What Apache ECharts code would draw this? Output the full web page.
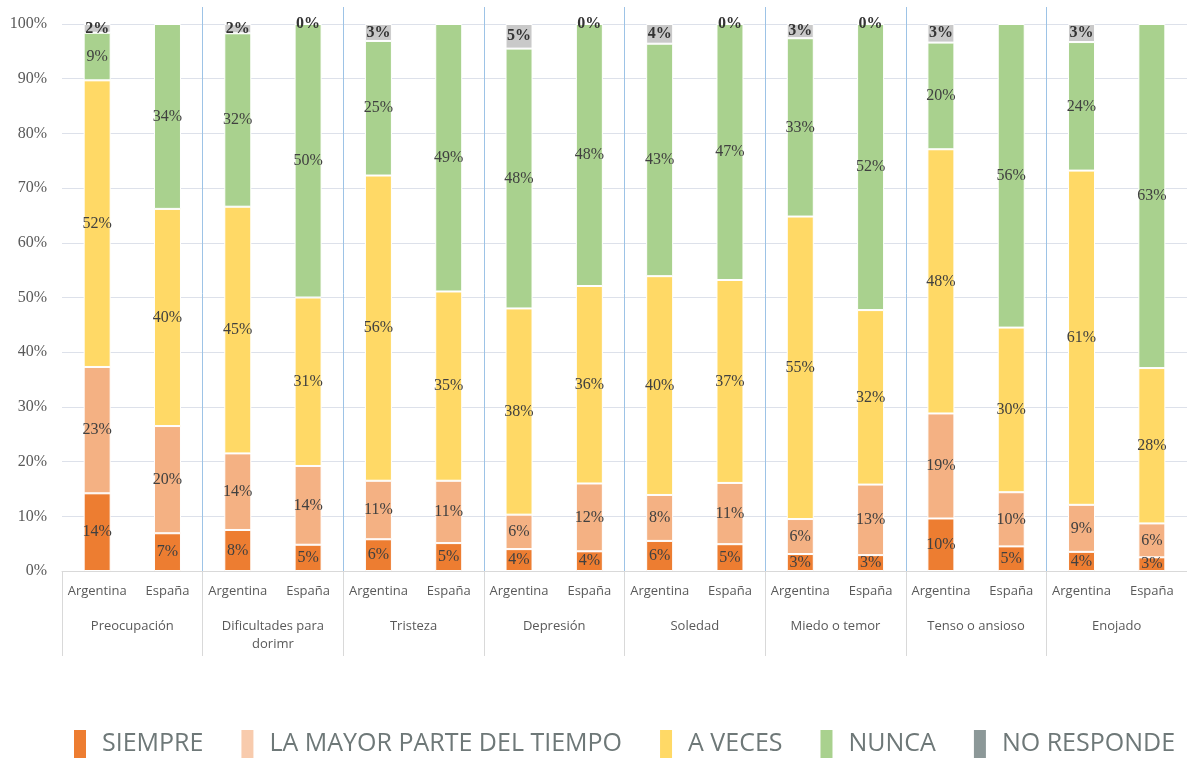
<!DOCTYPE html>
<html>
<head>
<meta charset="utf-8">
<title>Emociones Argentina / España</title>
<script src="https://cdn.jsdelivr.net/npm/echarts@6/dist/echarts.min.js"></script>
<style>
  html, body { margin: 0; padding: 0; background: #fff; }
  #main { width: 1187px; height: 758px; }
</style>
</head>
<body>
<div id="main"></div>
<script>
// categorias
var paises = ['Argentina', 'España', 'Argentina', 'España', 'Argentina', 'España', 'Argentina', 'España',
              'Argentina', 'España', 'Argentina', 'España', 'Argentina', 'España', 'Argentina', 'España'];
var grupos = ['Preocupación', 'Dificultades para\ndorimr', 'Tristeza', 'Depresión',
              'Soledad', 'Miedo o temor', 'Tenso o ansioso', 'Enojado'];
var yTicks = [0, 10, 20, 30, 40, 50, 60, 70, 80, 90, 100];

// valores (%)
var siempre    = [14.2, 6.9, 7.5, 4.8, 5.8, 5.1, 4.0, 3.6, 5.5, 4.9, 3.1, 2.9, 9.6, 4.5, 3.5, 2.5];
var mayorParte = [23.1, 19.6, 14.0, 14.4, 10.7, 11.4, 6.3, 12.4, 8.4, 11.2, 6.4, 12.9, 19.2, 9.9, 8.6, 6.2];
var aVeces     = [52.4, 39.7, 45.1, 30.8, 55.8, 34.6, 37.7, 36.1, 40.0, 37.1, 55.3, 31.9, 48.3, 30.1, 61.1, 28.4];
var nunca      = [8.7, 33.8, 31.7, 50.0, 24.6, 48.9, 47.5, 47.9, 42.5, 46.8, 32.6, 52.3, 19.5, 55.5, 23.5, 62.9];
var noResponde = [1.6, null, 1.7, 0, 3.1, null, 4.5, 0, 3.6, 0, 2.6, 0, 3.4, null, 3.3, null];

var nombres = ['SIEMPRE', 'LA MAYOR PARTE DEL TIEMPO', 'A VECES', 'NUNCA', 'NO RESPONDE'];
var coloresBarra = ['#ed7d31', '#f4b183', '#ffd966', '#a9d18e', '#c9c9c9'];
var coloresLeyenda = ['#ed7d31', '#f8cbad', '#ffd966', '#a9d18e', '#8c9898'];
var valores = [siempre, mayorParte, aVeces, nunca, noResponde];

var myChart = echarts.init(document.getElementById('main'));

var series = [];
valores.forEach(function (vals, i) {
    series.push({
        name: nombres[i],
        type: 'bar',
        stack: 'total',
        xAxisIndex: 0,
        yAxisIndex: 0,
        barWidth: 27,
        data: vals,
        itemStyle: { color: coloresBarra[i], borderColor: '#ffffff', borderWidth: 1 },
        label: {
            show: true,
            position: 'inside',
            fontFamily: 'Liberation Serif',
            fontSize: 16,
            color: i === 4 ? '#333333' : '#404040',
            fontWeight: i === 4 ? 'bold' : 'normal',
            formatter: function (p) {
                return p.value == null ? '' : Math.round(p.value) + '%';
            }
        }
    });
});

var option = {
    animation: false,
    grid: [
        { left: 62, right: 0, top: 24, bottom: 187 },
        { left: 62, right: 0, top: 7, bottom: 178 }
    ],
    legend: {
        left: 72,
        top: 728,
        padding: 0,
        itemWidth: 14,
        itemHeight: 30,
        itemGap: 36,
        icon: 'rect',
        textStyle: {
            fontFamily: 'Open Sans',
            fontSize: 25,
            color: '#6e7878',
            padding: [0, 0, 0, 10]
        },
        data: nombres.map(function (n, i) {
            return { name: n, itemStyle: { color: coloresLeyenda[i] } };
        })
    },
    xAxis: [
        {
            type: 'category',
            gridIndex: 0,
            position: 'bottom',
            data: paises,
            axisLine: { lineStyle: { color: '#d9d9d9' } },
            axisTick: { show: false },
            axisLabel: { fontFamily: 'Open Sans', fontSize: 13, color: '#595959', margin: 14, interval: 0 }
        },
        {
            type: 'category',
            gridIndex: 0,
            position: 'bottom',
            data: grupos,
            axisLine: { show: false },
            axisTick: { show: true, length: 85, interval: 0, lineStyle: { color: '#d9d9d9' } },
            axisLabel: { fontFamily: 'Open Sans', fontSize: 13, color: '#595959', margin: 46, lineHeight: 18, interval: 0 }
        },
        {
            type: 'category',
            gridIndex: 1,
            data: grupos,
            axisLine: { show: false },
            axisTick: { show: false },
            axisLabel: { show: false },
            splitLine: { show: true, showMinLine: false, showMaxLine: false, interval: 0, lineStyle: { color: '#9dc3e6', width: 1 } }
        }
    ],
    yAxis: [
        {
            type: 'value',
            gridIndex: 0,
            min: yTicks[0],
            max: yTicks[yTicks.length - 1],
            interval: 10,
            axisLine: { show: false },
            axisTick: { show: false },
            axisLabel: { formatter: '{value}%', fontFamily: 'Liberation Serif', fontSize: 16, color: '#595959', margin: 15 },
            splitLine: { lineStyle: { color: '#dde1ea' } }
        },
        {
            type: 'value',
            gridIndex: 1,
            min: 0,
            max: 1,
            show: false
        }
    ],
    series: series
};

option && myChart.setOption(option);
</script>
</body>
</html>
